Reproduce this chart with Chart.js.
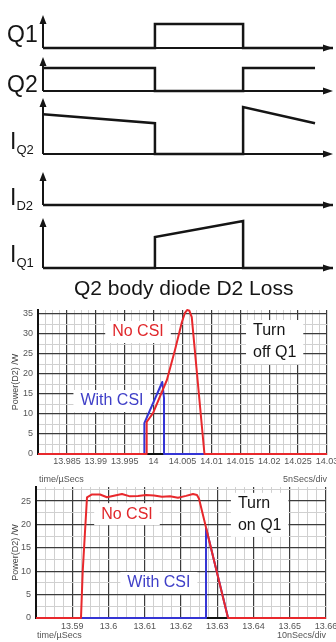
<!DOCTYPE html>
<html>
<head>
<meta charset="utf-8">
<script src="https://cdn.jsdelivr.net/npm/chart.js@4.4.1/dist/chart.umd.min.js"></script>
<style>
html, body { margin: 0; padding: 0; background: #fff; }
body { position: relative; width: 336px; height: 642px; overflow: hidden; font-family: Arial, "Liberation Sans", sans-serif; color: #151515; }
canvas { position: absolute; left: 0; }
.sig { position: absolute; font-size: 23px; line-height: 1; white-space: nowrap; }
.sig sub { font-size: 13px; vertical-align: baseline; position: relative; top: 5px; }
#title { position: absolute; left: 74px; top: 277px; font-size: 21px; line-height: 1; white-space: nowrap; }
</style>
</head>
<body>
<canvas id="cQ1" width="336" height="43" style="top:10px"></canvas>
<canvas id="cQ2" width="336" height="44" style="top:52px"></canvas>
<canvas id="cIQ2" width="336" height="66" style="top:93px"></canvas>
<canvas id="cID2" width="336" height="43" style="top:167px"></canvas>
<canvas id="cIQ1" width="336" height="60" style="top:213px"></canvas>

<div class="sig" style="left:7px;top:23px">Q1</div>
<div class="sig" style="left:7px;top:73px">Q2</div>
<div class="sig" style="left:10px;top:130px">I<sub>Q2</sub></div>
<div class="sig" style="left:10px;top:186px">I<sub>D2</sub></div>
<div class="sig" style="left:10px;top:243px">I<sub>Q1</sub></div>
<div id="title">Q2 body diode D2 Loss</div>

<canvas id="offChart" width="336" height="190" style="top:300px"></canvas>
<canvas id="onChart" width="336" height="172" style="top:470px"></canvas>

<script>
// switching waveforms (time in arbitrary units 0..10, level 0..1 of each trace)
const q1T = [0, 3.86, 3.86, 6.9, 6.9, 10];
const q1V = [0, 0, 0.73, 0.73, 0, 0];
const q2T = [0, 3.86, 3.86, 6.9, 6.9, 9.38];
const q2V = [0.68, 0.68, 0, 0, 0.68, 0.68];
const iq2T = [0, 3.86, 3.86, 6.9, 6.9, 9.38];
const iq2V = [0.71, 0.55, 0, 0, 0.84, 0.55];
const id2T = [0, 10];
const id2V = [0, 0];
const iq1T = [0, 3.86, 3.86, 6.9, 6.9, 10];
const iq1V = [0, 0, 0.62, 0.94, 0, 0];

// turn off Q1 : Power(D2) /W vs time/uSecs
const offNoCsiT = [13.98, 13.9988, 13.9988, 13.9999, 14.0023, 14.0037, 14.0049, 14.0054, 14.0058, 14.0062, 14.0066, 14.0088, 14.03];
const offNoCsiP = [0, 0, 8, 10.2, 18.5, 26, 33, 35.2, 36, 35.8, 34.2, 0, 0];
const offCsiT = [13.98, 13.9984, 13.9984, 14.0015, 14.0018, 14.0018, 14.03];
const offCsiP = [0, 0, 7.7, 18, 14, 0, 0];

// turn on Q1
const onNoCsiT = [13.58, 13.59241, 13.59288, 13.59407, 13.59545, 13.59766, 13.59959, 13.60179, 13.60372, 13.60593,
  13.60814, 13.61034, 13.61255, 13.61476, 13.61697, 13.61917, 13.62138, 13.62331, 13.62441, 13.62497, 13.63297, 13.66];
const onNoCsiP = [0, 0, 9.9, 25.8, 26.4, 26.4, 25.8, 26.2, 26.5, 26.0,
  26.1, 26.3, 26.2, 25.9, 26.0, 25.7, 26.1, 26.5, 26.3, 25.5, 0, 0];
const onCsiT = [13.58, 13.6269, 13.6269, 13.633, 13.66];
const onCsiP = [0, 0, 19.3, 0, 0];

const FONT = 'Arial, "Liberation Sans", sans-serif';
Chart.defaults.font.family = FONT;

const pts = (xs, ys) => xs.map((x, i) => ({ x, y: ys[i] }));
const isMajor = (v, step) => Math.abs(v / step - Math.round(v / step)) < 1e-6;

// axes with arrow heads for the switching diagram
const arrowAxes = {
  id: 'arrowAxes',
  beforeDatasetsDraw(chart) {
    const { ctx, chartArea: { left, right, top, bottom } } = chart;
    ctx.save();
    ctx.strokeStyle = ctx.fillStyle = '#151515';
    ctx.lineWidth = 2;
    ctx.beginPath();
    ctx.moveTo(left, bottom); ctx.lineTo(left, top + 7);
    ctx.moveTo(left, bottom); ctx.lineTo(right - 8, bottom);
    ctx.stroke();
    ctx.beginPath();
    ctx.moveTo(left, top); ctx.lineTo(left - 3.5, top + 9); ctx.lineTo(left + 3.5, top + 9); ctx.closePath();
    ctx.moveTo(right, bottom); ctx.lineTo(right - 10, bottom - 3.5); ctx.lineTo(right - 10, bottom + 3.5); ctx.closePath();
    ctx.fill();
    ctx.restore();
  }
};

function waveform(id, t, v) {
  new Chart(document.getElementById(id), {
    type: 'line',
    data: {
      datasets: [{
        data: pts(t, v),
        borderColor: '#151515',
        borderWidth: 2.5,
        pointRadius: 0,
        tension: 0,
        clip: false,
      }],
    },
    options: {
      responsive: false,
      animation: false,
      events: [],
      layout: { padding: { left: 43, right: 3, top: 5, bottom: 5 } },
      plugins: { legend: { display: false }, tooltip: { enabled: false } },
      scales: {
        x: { type: 'linear', min: 0, max: 10, display: false },
        y: { min: 0, max: 1, display: false },
      },
    },
    plugins: [arrowAxes],
  });
}

waveform('cQ1', q1T, q1V);
waveform('cQ2', q2T, q2V);
waveform('cIQ2', iq2T, iq2V);
waveform('cID2', id2T, id2V);
waveform('cIQ1', iq1T, iq1V);

// text boxes on the plots (white background hides the grid)
const notes = {
  id: 'notes',
  beforeDatasetsDraw(chart, args, opts) {
    const { ctx, scales: { x, y } } = chart;
    ctx.save();
    ctx.font = '16px ' + FONT;
    ctx.textBaseline = 'middle';
    for (const n of opts.items) {
      const px = x.getPixelForValue(n.x);
      const py = y.getPixelForValue(n.y);
      const w = Math.max(...n.text.map(s => ctx.measureText(s).width));
      const left = n.align === 'left' ? px : px - w / 2;
      ctx.fillStyle = '#fff';
      ctx.fillRect(left - 7, py - 11, w + 14, n.text.length * 22);
      ctx.fillStyle = n.color;
      ctx.textAlign = 'left';
      n.text.forEach((s, i) => ctx.fillText(s, left, py + i * 22));
    }
    ctx.restore();
  }
};

const footer = {
  id: 'footer',
  afterDraw(chart, args, opts) {
    const { ctx, chartArea: { left, right, bottom } } = chart;
    ctx.save();
    ctx.font = '9px ' + FONT;
    ctx.fillStyle = '#555';
    ctx.textBaseline = 'middle';
    ctx.textAlign = 'left';
    ctx.fillText(opts.left, left + 1, bottom + opts.dy);
    ctx.textAlign = 'right';
    ctx.fillText(opts.right, right, bottom + opts.dy);
    ctx.restore();
  }
};

function powerChart(id, cfg) {
  new Chart(document.getElementById(id), {
    type: 'line',
    data: {
      datasets: [
        { label: 'No CSI', data: pts(cfg.noT, cfg.noP), borderColor: '#e8282c', borderWidth: 2,
          pointRadius: 0, tension: 0, clip: false, borderJoinStyle: 'round' },
        { label: 'With CSI', data: pts(cfg.csiT, cfg.csiP), borderColor: '#3535d4', borderWidth: 2,
          pointRadius: 0, tension: 0, clip: false, borderJoinStyle: 'round' },
      ],
    },
    options: {
      responsive: false,
      animation: false,
      events: [],
      layout: { padding: cfg.padding },
      plugins: {
        legend: { display: false },
        tooltip: { enabled: false },
        notes: { items: cfg.notes },
        footer: { left: 'time/\u00b5Secs', right: cfg.div, dy: cfg.footDy },
      },
      scales: {
        x: {
          type: 'linear',
          min: cfg.xMin, max: cfg.xMax,
          afterFit(s) { s.height = cfg.xHeight; s.paddingLeft = 0; s.paddingRight = 0; },
          grid: {
            drawTicks: false,
            color: c => isMajor(c.tick.value, cfg.xMajor) ? '#3c3c3c' : '#d0d0d0',
            lineWidth: c => isMajor(c.tick.value, cfg.xMajor) ? 1.2 : 1,
          },
          border: { color: '#111', width: 2 },
          ticks: {
            stepSize: cfg.xMajor / 4,
            autoSkip: false, maxRotation: 0, minRotation: 0,
            padding: cfg.xPad,
            color: '#555', font: { size: 9 },
            callback: v => (isMajor(v, cfg.xMajor) && v > cfg.xMin + 1e-9) ? String(+v.toFixed(cfg.xDigits)) : '',
          },
        },
        y: {
          min: 0, max: cfg.yMax,
          afterFit(s) { s.width = cfg.yWidth; s.paddingTop = 0; s.paddingBottom = 0; },
          grid: {
            drawTicks: false,
            color: c => isMajor(c.tick.value, 5) ? '#3c3c3c' : '#d0d0d0',
            lineWidth: c => isMajor(c.tick.value, 5) ? 1.2 : 1,
          },
          border: { color: '#111', width: 2 },
          ticks: {
            stepSize: 2.5, includeBounds: false, autoSkip: false,
            padding: 5, color: '#555', font: { size: 9 },
            callback: v => isMajor(v, 5) ? String(Math.round(v)) : '',
          },
          title: { display: true, text: 'Power(D2) /W', color: '#444', font: { size: 9 }, padding: { top: 10, bottom: 0 } },
        },
      },
    },
    plugins: [notes, footer],
  });
}

powerChart('offChart', {
  noT: offNoCsiT, noP: offNoCsiP, csiT: offCsiT, csiP: offCsiP,
  xMin: 13.98, xMax: 14.03, xMajor: 0.005, xDigits: 3, yMax: 36,
  padding: { top: 10, right: 9, left: 0, bottom: 0 },
  yWidth: 38, xHeight: 36, xPad: 2,
  div: '5nSecs/div', footDy: 26,
  notes: [
    { text: ['No CSI'], x: 13.9973, y: 30.5, color: '#e0282c' },
    { text: ['With CSI'], x: 13.9928, y: 13.25, color: '#4040c8' },
    { text: ['Turn', 'off Q1'], x: 14.0172, y: 30.75, color: '#151515', align: 'left' },
  ],
});

powerChart('onChart', {
  noT: onNoCsiT, noP: onNoCsiP, csiT: onCsiT, csiP: onCsiP,
  xMin: 13.58, xMax: 13.66, xMajor: 0.01, xDigits: 2, yMax: 28,
  padding: { top: 17, right: 10, left: 0, bottom: 0 },
  yWidth: 36, xHeight: 24, xPad: 3,
  div: '10nSecs/div', footDy: 18,
  notes: [
    { text: ['No CSI'], x: 13.6051, y: 22.2, color: '#e0282c' },
    { text: ['With CSI'], x: 13.6139, y: 7.5, color: '#4040c8' },
    { text: ['Turn', 'on Q1'], x: 13.6357, y: 24.4, color: '#151515', align: 'left' },
  ],
});
</script>
</body>
</html>
